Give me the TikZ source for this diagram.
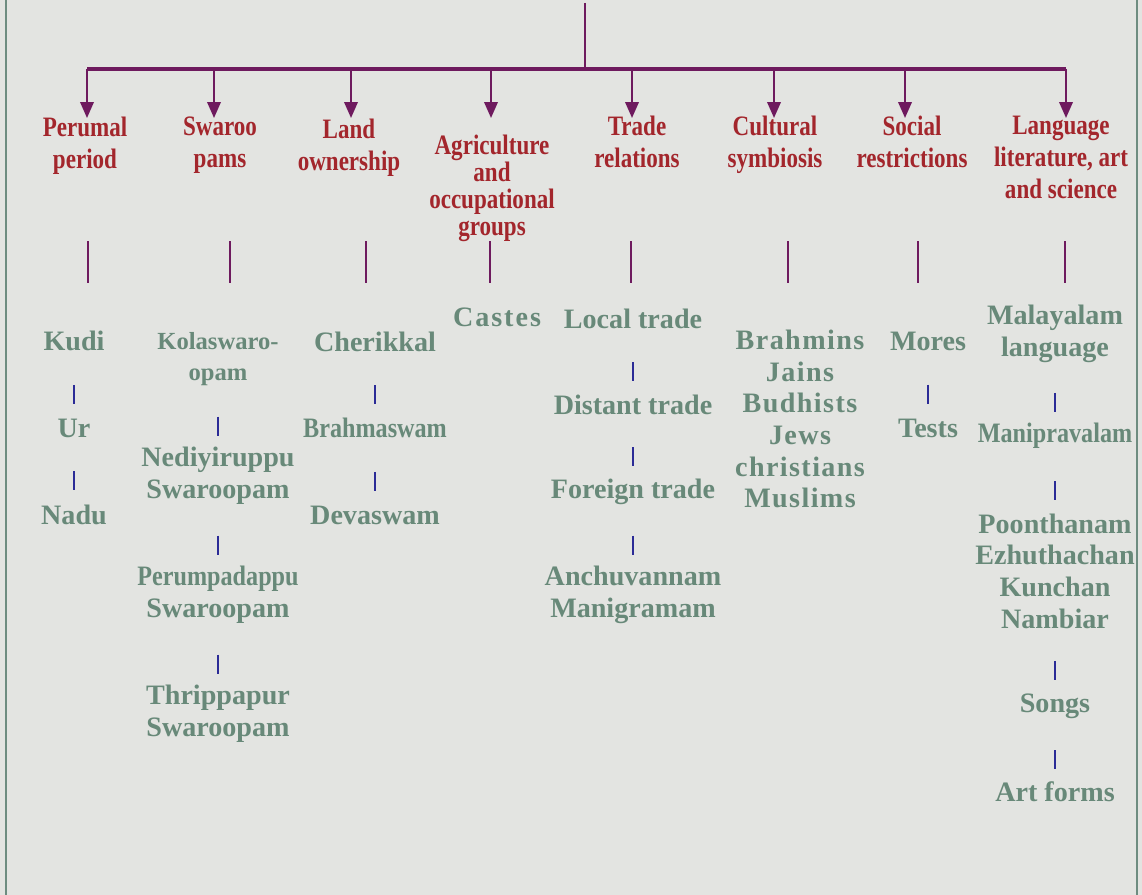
\documentclass[tikz,border=0pt]{standalone}
\usepackage{fontspec}
\setmainfont{Liberation Serif}
\newfontfamily\headfont{Liberation Serif}[FakeStretch=0.82]
\newfontfamily\narrowfont{Liberation Serif}[FakeStretch=0.86]
\usetikzlibrary{calc,arrows.meta}
\definecolor{paper}{HTML}{E3E4E1}
\definecolor{framegreen}{HTML}{6E8C80}
\definecolor{headred}{HTML}{A3262C}
\definecolor{plum}{HTML}{6E1A5E}
\definecolor{sage}{HTML}{688979}
\definecolor{tickblue}{HTML}{2B2B96}
\tikzset{%
  heading/.style = {font=\headfont\bfseries\fontsize{16}{18}\selectfont,%
                    text=headred, align=center, inner sep=0pt, anchor=north},%
  item/.style    = {font=\bfseries\fontsize{16}{18}\selectfont,%
                    text=sage, align=center, inner sep=0pt},%
  spaced/.style  = {font=\bfseries\fontsize{16}{18}\selectfont\addfontfeature{LetterSpace=#1}},%
  rail/.style    = {draw=plum, line width=2.4pt},%
  branch/.style  = {draw=plum, line width=1.2pt, -{Triangle[length=3.2mm,width=2.7mm]}},%
  stem/.style    = {draw=plum, line width=1.4pt},%
  tick/.style    = {draw=tickblue, line width=1.1pt}%
}
% short blue mark between two items of one column
\newcommand{\sepmark}[2]{\draw[tick] ($(#1.south)!.5!(#2.north)$) -- ++(0,19);}

\begin{document}
\begin{tikzpicture}[x=0.02cm,y=-0.02cm]
	\useasboundingbox (0,0) rectangle (1142,895);
	\fill[paper] (0,0) rectangle (1142,895);
	\draw[framegreen, line width=1.6pt] (6,0) -- (6,895) (1137,0) -- (1137,895);

	% headings
	\node[heading] (h1) at (85,117)   {Perumal\\period};
	\node[heading] (h2) at (220,117)  {Swaroo\\pams};
	\node[heading] (h3) at (349,119)  {Land\\ownership};
	\node[heading, font=\headfont\bfseries\fontsize{16}{15.3}\selectfont] (h4) at (492,135) {Agriculture\\and\\occupational\\groups};
	\node[heading] (h5) at (637,116)  {Trade\\relations};
	\node[heading] (h6) at (775,116)  {Cultural\\symbiosis};
	\node[heading] (h7) at (912,116)  {Social\\restrictions};
	\node[heading] (h8) at (1061,116) {Language\\literature, art\\and science};

	\coordinate (root) at (585,3);
	\coordinate (hub) at (585,69);
	\draw[stem] (root) -- (hub);
	\foreach \x [count=\i] in {87,214,351,491,632,774,905,1066}{
		\coordinate (tip\i) at (\x,118);
		\draw[branch] (tip\i |- hub) -- (tip\i);
	}
	\draw[rail] (tip1 |- hub) -- (tip8 |- hub);

	% stems under the headings
	\foreach \x [count=\i] in {88,230,366,490,631,788,918,1065}{
		\coordinate (stem\i) at (\x,241);
		\draw[stem] (stem\i) -- ++(0,42);
	}

	% column 1
	\node[item] (kudi) at (74,341) {Kudi};
	\node[item] (ur)   at (74,428) {Ur};
	\node[item] (nadu) at (74,515) {Nadu};
	% column 2
	\node[item, font=\bfseries\fontsize{14}{18}\selectfont] (kolas) at (218,359) {Kolaswaro-\\opam};
	\node[item] (nedi)  at (218,476) {Nediyiruppu\\Swaroopam};
	\node[item] (perum) at (218,595) {{\narrowfont Perumpadappu}\\Swaroopam};
	\node[item] (thrip) at (218,714) {Thrippapur\\Swaroopam};
	% column 3
	\node[item] (cheri)   at (375,342) {Cherikkal};
	\node[item, font=\narrowfont\bfseries\fontsize{16}{18}\selectfont] (brahmas) at (375,428) {Brahmaswam};
	\node[item] (deva)    at (375,515) {Devaswam};
	% column 4
	\node[item, spaced=7] (castes) at (497,317) {Castes};
	% column 5
	\node[item] (local)   at (633,319) {Local trade};
	\node[item] (distant) at (633,405) {Distant trade};
	\node[item] (foreign) at (633,492) {Foreign trade};
	\node[item] (anchu)   at (633,595) {Anchuvannam\\Manigramam};
	% column 6
	\node[item, spaced=5] (faiths) at (800,419) {Brahmins\\Jains\\Budhists\\Jews\\christians\\Muslims};
	% column 7
	\node[item] (mores) at (928,341) {Mores};
	\node[item] (tests) at (928,428) {Tests};
	% column 8
	\node[item] (malay) at (1055,334) {Malayalam\\language};
	\node[item, font=\narrowfont\bfseries\fontsize{16}{18}\selectfont] (mani) at (1055,436) {Manipravalam};
	\node[item] (poets) at (1055,571) {Poonthanam\\Ezhuthachan\\Kunchan\\Nambiar};
	\node[item] (songs) at (1055,706) {Songs};
	\node[item] (art)   at (1055,792) {Art forms};

	\sepmark{kudi}{ur}
	\sepmark{ur}{nadu}
	\sepmark{kolas}{nedi}
	\sepmark{nedi}{perum}
	\sepmark{perum}{thrip}
	\sepmark{cheri}{brahmas}
	\sepmark{brahmas}{deva}
	\sepmark{local}{distant}
	\sepmark{distant}{foreign}
	\sepmark{foreign}{anchu}
	\sepmark{mores}{tests}
	\sepmark{malay}{mani}
	\sepmark{mani}{poets}
	\sepmark{poets}{songs}
	\sepmark{songs}{art}
\end{tikzpicture}
\end{document}
